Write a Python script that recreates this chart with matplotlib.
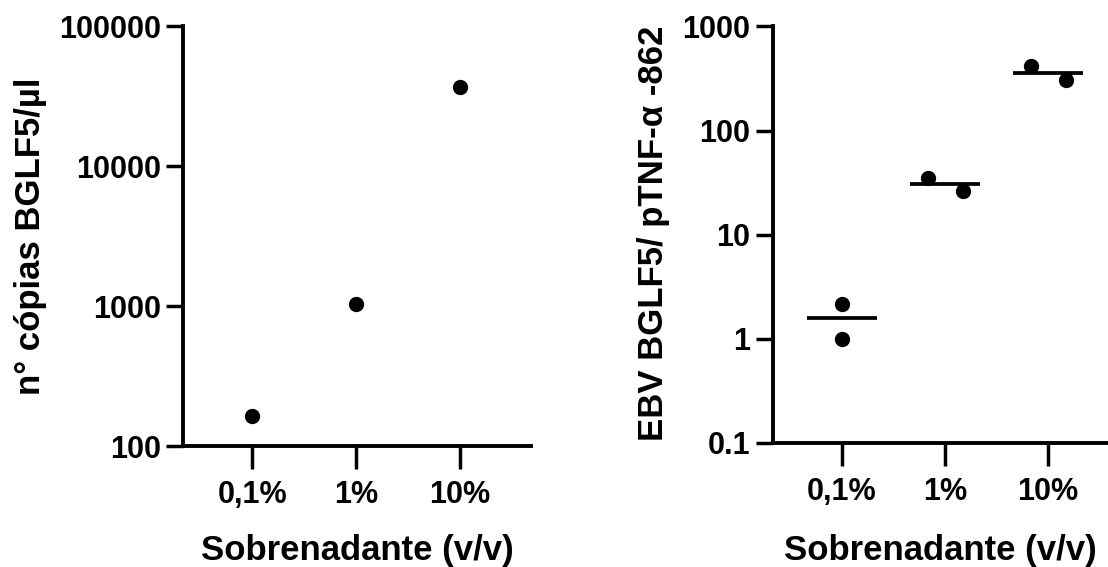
import numpy as np
import matplotlib
matplotlib.use("Agg")
import matplotlib.pyplot as plt
from matplotlib.ticker import FixedLocator, NullLocator

plt.rcParams['font.family'] = ['Liberation Sans', 'DejaVu Sans']
plt.rcParams['font.weight'] = 'bold'

# -----------------------------
# Data
# -----------------------------
categories = ["0,1%", "1%", "10%"]

# left panel: copy number per category
copies = [164, 1028, 36900]

# right panel: two replicates per category
ratio_rep1 = [2.16, 35.0, 418]
ratio_rep2 = [1.0, 26.2, 304]

left_ticks = [100, 1000, 10000, 100000]
left_ticklabels = ["100", "1000", "10000", "100000"]
right_ticks = [0.1, 1, 10, 100, 1000]
right_ticklabels = ["0.1", "1", "10", "100", "1000"]

# horizontal scatter offset of the two replicates (layout only)
jitter = [(0.0, 0.0), (-0.165, 0.175), (-0.16, 0.18)]

# -----------------------------
# Figure
# -----------------------------
fig = plt.figure(figsize=(11.08, 5.67), dpi=100)
ax1 = fig.add_axes([0.1652, 0.2134, 0.3141, 0.7399])
ax2 = fig.add_axes([0.6974, 0.2187, 0.3026, 0.7347])

x = np.arange(len(categories))


def style_axis(ax, ticks, ticklabels, xmax):
    ax.set_yscale('log')
    ax.spines['top'].set_visible(False)
    ax.spines['right'].set_visible(False)
    for s in ['left', 'bottom']:
        ax.spines[s].set_linewidth(2.8)
    ax.yaxis.set_major_locator(FixedLocator(ticks))
    ax.yaxis.set_minor_locator(NullLocator())
    ax.set_yticklabels(ticklabels)
    ax.set_ylim(ticks[0], ticks[-1])
    ax.set_xticks(x)
    ax.set_xticklabels(categories)
    ax.set_xlim(-0.67, xmax)
    ax.tick_params(axis='y', length=12.5, width=2.5, pad=3.5, labelsize=22)
    ax.tick_params(axis='x', length=16.5, width=2.5, pad=8, labelsize=22)
    for lab in ax.get_xticklabels() + ax.get_yticklabels():
        lab.set_fontweight('bold')


# Left panel
ax1.plot(x, copies, 'o', color='black', markersize=10, clip_on=False)
style_axis(ax1, left_ticks, left_ticklabels, 2.69)
ax1.set_xlabel("Sobrenadante (v/v)", fontsize=25, fontweight='bold')
ax1.set_ylabel("n° cópias BGLF5/µl", fontsize=25, fontweight='bold')
ax1.xaxis.set_label_coords(0.5, -0.209)
ax1.yaxis.set_label_coords(-0.392, 0.50)

# Right panel
offs = np.array(jitter)
ax2.plot(x + offs[:, 0], ratio_rep1, 'o', color='black', markersize=10, clip_on=False)
ax2.plot(x + offs[:, 1], ratio_rep2, 'o', color='black', markersize=10, clip_on=False)
means = np.mean([ratio_rep1, ratio_rep2], axis=0)
ax2.hlines(means, x - 0.34, x + 0.34, color='black', linewidth=2.7)
style_axis(ax2, right_ticks, right_ticklabels, 2.585)
ax2.set_xlabel("Sobrenadante (v/v)", fontsize=25, fontweight='bold')
ax2.set_ylabel("EBV BGLF5/ pTNF-α -862", fontsize=25, fontweight='bold')
ax2.xaxis.set_label_coords(0.5, -0.218)
ax2.yaxis.set_label_coords(-0.305, 0.503)

fig.savefig("out.png", dpi=100)
